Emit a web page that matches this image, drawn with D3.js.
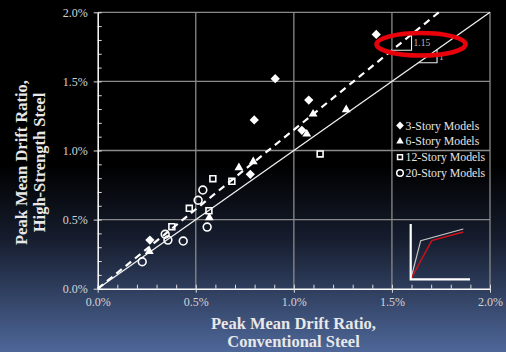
<!DOCTYPE html>
<html>
<head>
<meta charset="utf-8">
<script src="https://cdn.jsdelivr.net/npm/d3@7"></script>
<style>
  html, body { margin: 0; padding: 0; background: #000; }
  svg { display: block; }
</style>
</head>
<body>
<svg id="chart" width="506" height="352"></svg>
<script>
// Peak mean drift ratios (%): conventional steel (x) vs high-strength steel (y)
const story3  = [[1.42, 1.84], [0.905, 1.52], [1.076, 1.365], [0.798, 1.221], [1.041, 1.146], [0.778, 0.828], [0.266, 0.352]];
const story6  = [[1.098, 1.264], [1.066, 1.119], [1.267, 1.295], [0.720, 0.876], [0.793, 0.919], [0.569, 0.514], [0.263, 0.270]];
const story12 = [[1.134, 0.975], [0.587, 0.796], [0.684, 0.777], [0.467, 0.582], [0.567, 0.564], [0.378, 0.449]];
const story20 = [[0.512, 0.640], [0.536, 0.714], [0.558, 0.446], [0.344, 0.394], [0.358, 0.352], [0.436, 0.345], [0.227, 0.195]];

const legendLabels = ["3-Story Models", "6-Story Models", "12-Story Models", "20-Story Models"];
const tickValues = [0, 0.5, 1.0, 1.5, 2.0];
const minorTicks = d3.range(0, 2.0001, 0.1);
const fitSlope = 1.15;
const slopeLabels = ["1.15", "1"];

const svg = d3.select("#chart");
const W = 506, H = 352;

// background gradient
const defs = svg.append("defs");
const grad = defs.append("linearGradient").attr("id", "bg").attr("x1", 0).attr("y1", 0).attr("x2", 0).attr("y2", 1);
grad.append("stop").attr("offset", "0%").attr("stop-color", "#000000");
grad.append("stop").attr("offset", "47%").attr("stop-color", "#000000");
grad.append("stop").attr("offset", "68%").attr("stop-color", "#161d2e");
grad.append("stop").attr("offset", "100%").attr("stop-color", "#4e6799");
svg.append("rect").attr("width", W).attr("height", H).attr("fill", "url(#bg)");

const x = d3.scaleLinear().domain([0, 2]).range([97.7, 490]);
const y = d3.scaleLinear().domain([0, 2]).range([288.7, 12.3]);
const fmt = d => d.toFixed(1) + "%";

// grid
const grid = svg.append("g");
grid.selectAll("line.gx").data(tickValues.slice(1)).join("line")
  .attr("x1", d => x(d)).attr("x2", d => x(d)).attr("y1", y(0)).attr("y2", y(2))
  .attr("stroke", "#8a8a8a").attr("stroke-width", 1.3);
grid.selectAll("line.gy").data(tickValues.slice(1)).join("line")
  .attr("y1", d => y(d)).attr("y2", d => y(d)).attr("x1", x(0)).attr("x2", x(2))
  .attr("stroke", "#8a8a8a").attr("stroke-width", 1.3);

// axes: minor ticks point inward, major ticks outward
const axisFont = "'Liberation Serif', 'Times New Roman', serif";
const xMinor = d3.axisTop(x).tickValues(minorTicks).tickSize(4).tickFormat("");
const yMinor = d3.axisRight(y).tickValues(minorTicks).tickSize(4).tickFormat("");
svg.append("g").attr("transform", `translate(0,${y(0)})`).call(xMinor)
  .call(g => g.select(".domain").remove())
  .selectAll("line").attr("stroke", "#ddd");
svg.append("g").attr("transform", `translate(${x(0)},0)`).call(yMinor)
  .call(g => g.select(".domain").remove())
  .selectAll("line").attr("stroke", "#ddd");

const xAxis = svg.append("g").attr("transform", `translate(0,${y(0)})`)
  .call(d3.axisBottom(x).tickValues(tickValues).tickSize(4).tickSizeOuter(0).tickPadding(5).tickFormat(fmt));
const yAxis = svg.append("g").attr("transform", `translate(${x(0)},0)`)
  .call(d3.axisLeft(y).tickValues(tickValues).tickSize(4).tickSizeOuter(0).tickPadding(6).tickFormat(fmt));
[xAxis, yAxis].forEach(a => {
  a.select(".domain").attr("stroke", "#fff").attr("stroke-width", 1.5);
  a.selectAll("line").attr("stroke", "#ddd");
  a.selectAll("text").attr("fill", "#d4d4d4").style("font-family", axisFont).style("font-size", "12px");
});

// axis titles
const titleStyle = s => s.attr("fill", "#e8e8e8").style("font-family", axisFont)
  .style("font-weight", "bold").style("font-size", "16.5px").attr("text-anchor", "middle");
svg.append("text").attr("x", 293.5).attr("y", 328.5).text("Peak Mean Drift Ratio,").call(titleStyle);
svg.append("text").attr("x", 293.5).attr("y", 347).text("Conventional Steel").call(titleStyle);
svg.append("text").attr("transform", "translate(26.5,162.5) rotate(-90)").text("Peak Mean Drift Ratio,").call(titleStyle);
svg.append("text").attr("transform", "translate(45,162.5) rotate(-90)").text("High-Strength Steel").call(titleStyle);

// 1:1 line and fitted line
const line = d3.line().x(d => x(d[0])).y(d => y(d[1]));
svg.append("path").datum([[0, 0], [2, 2]]).attr("d", line)
  .attr("stroke", "#f0f0f0").attr("stroke-width", 1.3).attr("fill", "none");
svg.append("path").datum([[0, 0], [2 / fitSlope, 2]]).attr("d", line)
  .attr("stroke", "#ffffff").attr("stroke-width", 2.2).attr("stroke-dasharray", "7,5").attr("fill", "none");

// slope triangles
const tri1 = [[1.50, 1.50 * fitSlope], [1.60, 1.50 * fitSlope], [1.60, 1.60 * fitSlope]];
const tri2 = [[1.635, 1.635], [1.73, 1.635], [1.73, 1.73]];
[tri1, tri2].forEach((t, i) => {
  svg.append("path").datum(t).attr("d", line).attr("fill", "none")
    .attr("stroke", "#eee").attr("stroke-width", 1.1);
  svg.append("text").attr("x", x(t[1][0]) + 2).attr("y", (y(t[1][1]) + y(t[2][1])) / 2 + 3.5)
    .text(slopeLabels[i]).attr("fill", "#bbb").style("font-family", axisFont).style("font-size", "9.5px");
});

// markers
const markerSets = [
  { data: story3,  type: d3.symbolDiamond2, size: 55, fill: "#fff", stroke: "none" },
  { data: story6,  type: d3.symbolTriangle, size: 34, fill: "#fff", stroke: "none" },
  { data: story12, type: d3.symbolSquare2,  size: 44, fill: "none", stroke: "#fff" },
  { data: story20, type: d3.symbolCircle,   size: 48, fill: "none", stroke: "#fff" }
];
markerSets.forEach(m => {
  svg.append("g").selectAll("path").data(m.data).join("path")
    .attr("transform", d => `translate(${x(d[0])},${y(d[1])})`)
    .attr("d", d3.symbol().type(m.type).size(m.size))
    .attr("fill", m.fill).attr("stroke", m.stroke).attr("stroke-width", 1.6);
});

// legend
const legend = svg.append("g").attr("transform", "translate(400,125.5)");
markerSets.forEach((m, i) => {
  const row = legend.append("g").attr("transform", `translate(0,${i * 15.8})`);
  row.append("path").attr("d", d3.symbol().type(m.type).size(m.size * 0.7))
    .attr("fill", m.fill).attr("stroke", m.stroke).attr("stroke-width", 1.5);
  row.append("text").attr("x", 5.5).attr("y", 4).text(legendLabels[i])
    .attr("fill", "#e4e4e4").style("font-family", axisFont).style("font-size", "11.8px");
});

// inset: bilinear backbone curves
const inset = svg.append("g");
inset.append("path").attr("d", "M410.7,279.3 L420.7,240.7 L463.3,229").attr("fill", "none")
  .attr("stroke", "#c8c8c8").attr("stroke-width", 1.2);
inset.append("path").attr("d", "M410.7,279.3 L431.7,240.7 L463.3,232").attr("fill", "none")
  .attr("stroke", "#d0101a").attr("stroke-width", 1.4);
inset.append("path").attr("d", "M410.7,224 L410.7,279.3 L470,279.3").attr("fill", "none")
  .attr("stroke", "#fff").attr("stroke-width", 2.2);

// highlight ellipse around slope annotation
svg.append("ellipse").attr("cx", 421).attr("cy", 44.3).attr("rx", 44.5).attr("ry", 11.2)
  .attr("fill", "none").attr("stroke", "#e8000b").attr("stroke-width", 4.5);
</script>
</body>
</html>
